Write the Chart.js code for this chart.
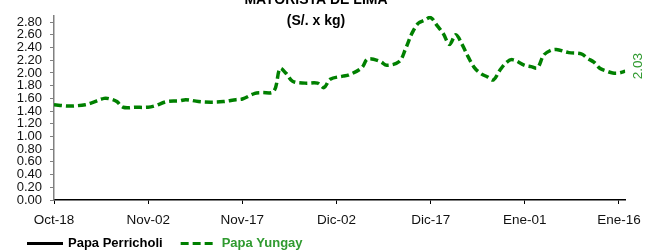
<!DOCTYPE html>
<html><head><meta charset="utf-8">
<script src="https://cdn.jsdelivr.net/npm/chart.js@4/dist/chart.umd.min.js"></script>
<style>html,body{margin:0;padding:0;background:#fff}#wrap{width:649px;height:250px}</style>
</head><body><div id="wrap"><canvas id="c" width="649" height="250"></canvas></div>
<script>
const titleLines = ['MAYORISTA DE LIMA', '(S/. x kg)'];
const seriesNames = ['Papa Perricholi', 'Papa Yungay'];
const tickDays = [0, 15, 30, 45, 60, 75, 90];
const tickLabels = ['Oct-18', 'Nov-02', 'Nov-17', 'Dic-02', 'Dic-17', 'Ene-01', 'Ene-16'];
const yTicks = [0, 0.2, 0.4, 0.6, 0.8, 1.0, 1.2, 1.4, 1.6, 1.8, 2.0, 2.2, 2.4, 2.6, 2.8];
const days = [0, 2, 3, 5, 6, 8, 9, 10, 11, 13, 15, 16, 18, 20, 21, 23, 25, 27, 29, 30, 32, 33, 35, 36, 37, 38, 40, 42, 43, 44, 46, 47, 49, 50, 52, 53, 55, 56, 57, 58, 59, 60, 61, 62, 63, 64, 65, 66, 67, 68, 69, 70, 71, 72, 73, 75, 76, 77, 78, 79, 80, 82, 84, 85, 86, 87, 88, 89, 90, 91];
const yungay = [1.50, 1.48, 1.48, 1.50, 1.53, 1.60, 1.59, 1.55, 1.46, 1.46, 1.46, 1.48, 1.55, 1.56, 1.58, 1.55, 1.54, 1.55, 1.58, 1.59, 1.68, 1.69, 1.71, 2.07, 1.99, 1.87, 1.84, 1.84, 1.77, 1.90, 1.95, 1.97, 2.08, 2.22, 2.18, 2.12, 2.18, 2.38, 2.62, 2.78, 2.83, 2.87, 2.75, 2.62, 2.45, 2.60, 2.45, 2.25, 2.08, 1.99, 1.94, 1.89, 2.04, 2.16, 2.21, 2.12, 2.10, 2.08, 2.28, 2.35, 2.37, 2.32, 2.30, 2.23, 2.17, 2.07, 2.03, 2.00, 2.00, 2.03];
const perricholi = [];

const GREEN = '#008000';
const LABEL_GREEN = '#2f9a2f';
const FONT = "'Liberation Sans', Arial, sans-serif";

const overlay = {
  id: 'overlay',
  afterDraw(chart) {
    const ctx = chart.ctx;
    ctx.save();
    ctx.fillStyle = '#000';
    ctx.font = "bold 14px " + FONT;
    ctx.textAlign = 'center';
    ctx.textBaseline = 'alphabetic';
    ctx.fillText(titleLines[0], 316, 4);
    ctx.fillText(titleLines[1], 316, 24.5);

    // legend (from dataset styles)
    const ds = chart.data.datasets;
    const legendColors = ['#000', LABEL_GREEN];
    let lx = 27;
    const ly = 243.5;
    ds.forEach((d, i) => {
      ctx.save();
      ctx.strokeStyle = d.borderColor;
      ctx.lineWidth = 3;
      ctx.setLineDash(d.borderDash || []);
      ctx.beginPath();
      ctx.moveTo(lx, ly);
      ctx.lineTo(lx + 36, ly);
      ctx.stroke();
      ctx.restore();
      ctx.font = "bold 13px " + FONT;
      ctx.fillStyle = legendColors[i];
      ctx.textAlign = 'left';
      ctx.textBaseline = 'middle';
      ctx.fillText(d.label, lx + 41, ly);
      lx += 41 + ctx.measureText(d.label).width + 18;
    });

    // last value label
    const xs = chart.scales.x, ys = chart.scales.y;
    const last = yungay[yungay.length - 1];
    const px = xs.getPixelForValue(days[days.length - 1]) + 13;
    const py = ys.getPixelForValue(last) - 5;
    ctx.translate(px, py);
    ctx.rotate(-Math.PI / 2);
    ctx.fillStyle = LABEL_GREEN;
    ctx.font = "13.5px " + FONT;
    ctx.textAlign = 'center';
    ctx.textBaseline = 'middle';
    ctx.fillText(last.toFixed(2), 0, 0);
    ctx.restore();
  }
};

new Chart(document.getElementById('c'), {
  type: 'line',
  data: {
    datasets: [
      { label: seriesNames[0], data: perricholi, borderColor: '#000', backgroundColor: '#000', borderWidth: 3, pointRadius: 0 },
      { label: seriesNames[1], data: days.map((d, i) => ({ x: d, y: yungay[i] })), borderColor: GREEN, backgroundColor: GREEN,
        borderWidth: 3.5, borderDash: [8, 4], pointRadius: 0, tension: 0.35 }
    ]
  },
  options: {
    responsive: false, animation: false, devicePixelRatio: 1,
    layout: { padding: { left: 0, right: 22, top: 8, bottom: 0 } },
    plugins: {
      tooltip: { enabled: false },
      legend: { display: false }
    },
    scales: {
      x: {
        type: 'linear', min: 0, max: 91,
        afterBuildTicks(s) { s.ticks = tickDays.map(v => ({ value: v })); },
        afterFit(s) { s.height = 50; },
        ticks: { autoSkip: false, maxRotation: 0, padding: 8, color: '#111', font: { family: FONT, size: 13.5 },
          callback: v => tickLabels[tickDays.indexOf(v)] },
        grid: { drawOnChartArea: false, tickLength: 4, color: '#000' },
        border: { color: '#000', width: 1.5 }
      },
      y: {
        min: 0, max: 2.9,
        afterBuildTicks(s) { s.ticks = yTicks.map(v => ({ value: v })); },
        afterFit(s) { s.width = 54; },
        ticks: { autoSkip: false, padding: 8, color: '#111', font: { family: FONT, size: 13 },
          callback: v => Number(v).toFixed(2) },
        grid: { drawOnChartArea: false, tickLength: 4, color: '#808080' },
        border: { color: '#808080', width: 1.5 }
      }
    }
  },
  plugins: [overlay]
});
</script></body></html>
